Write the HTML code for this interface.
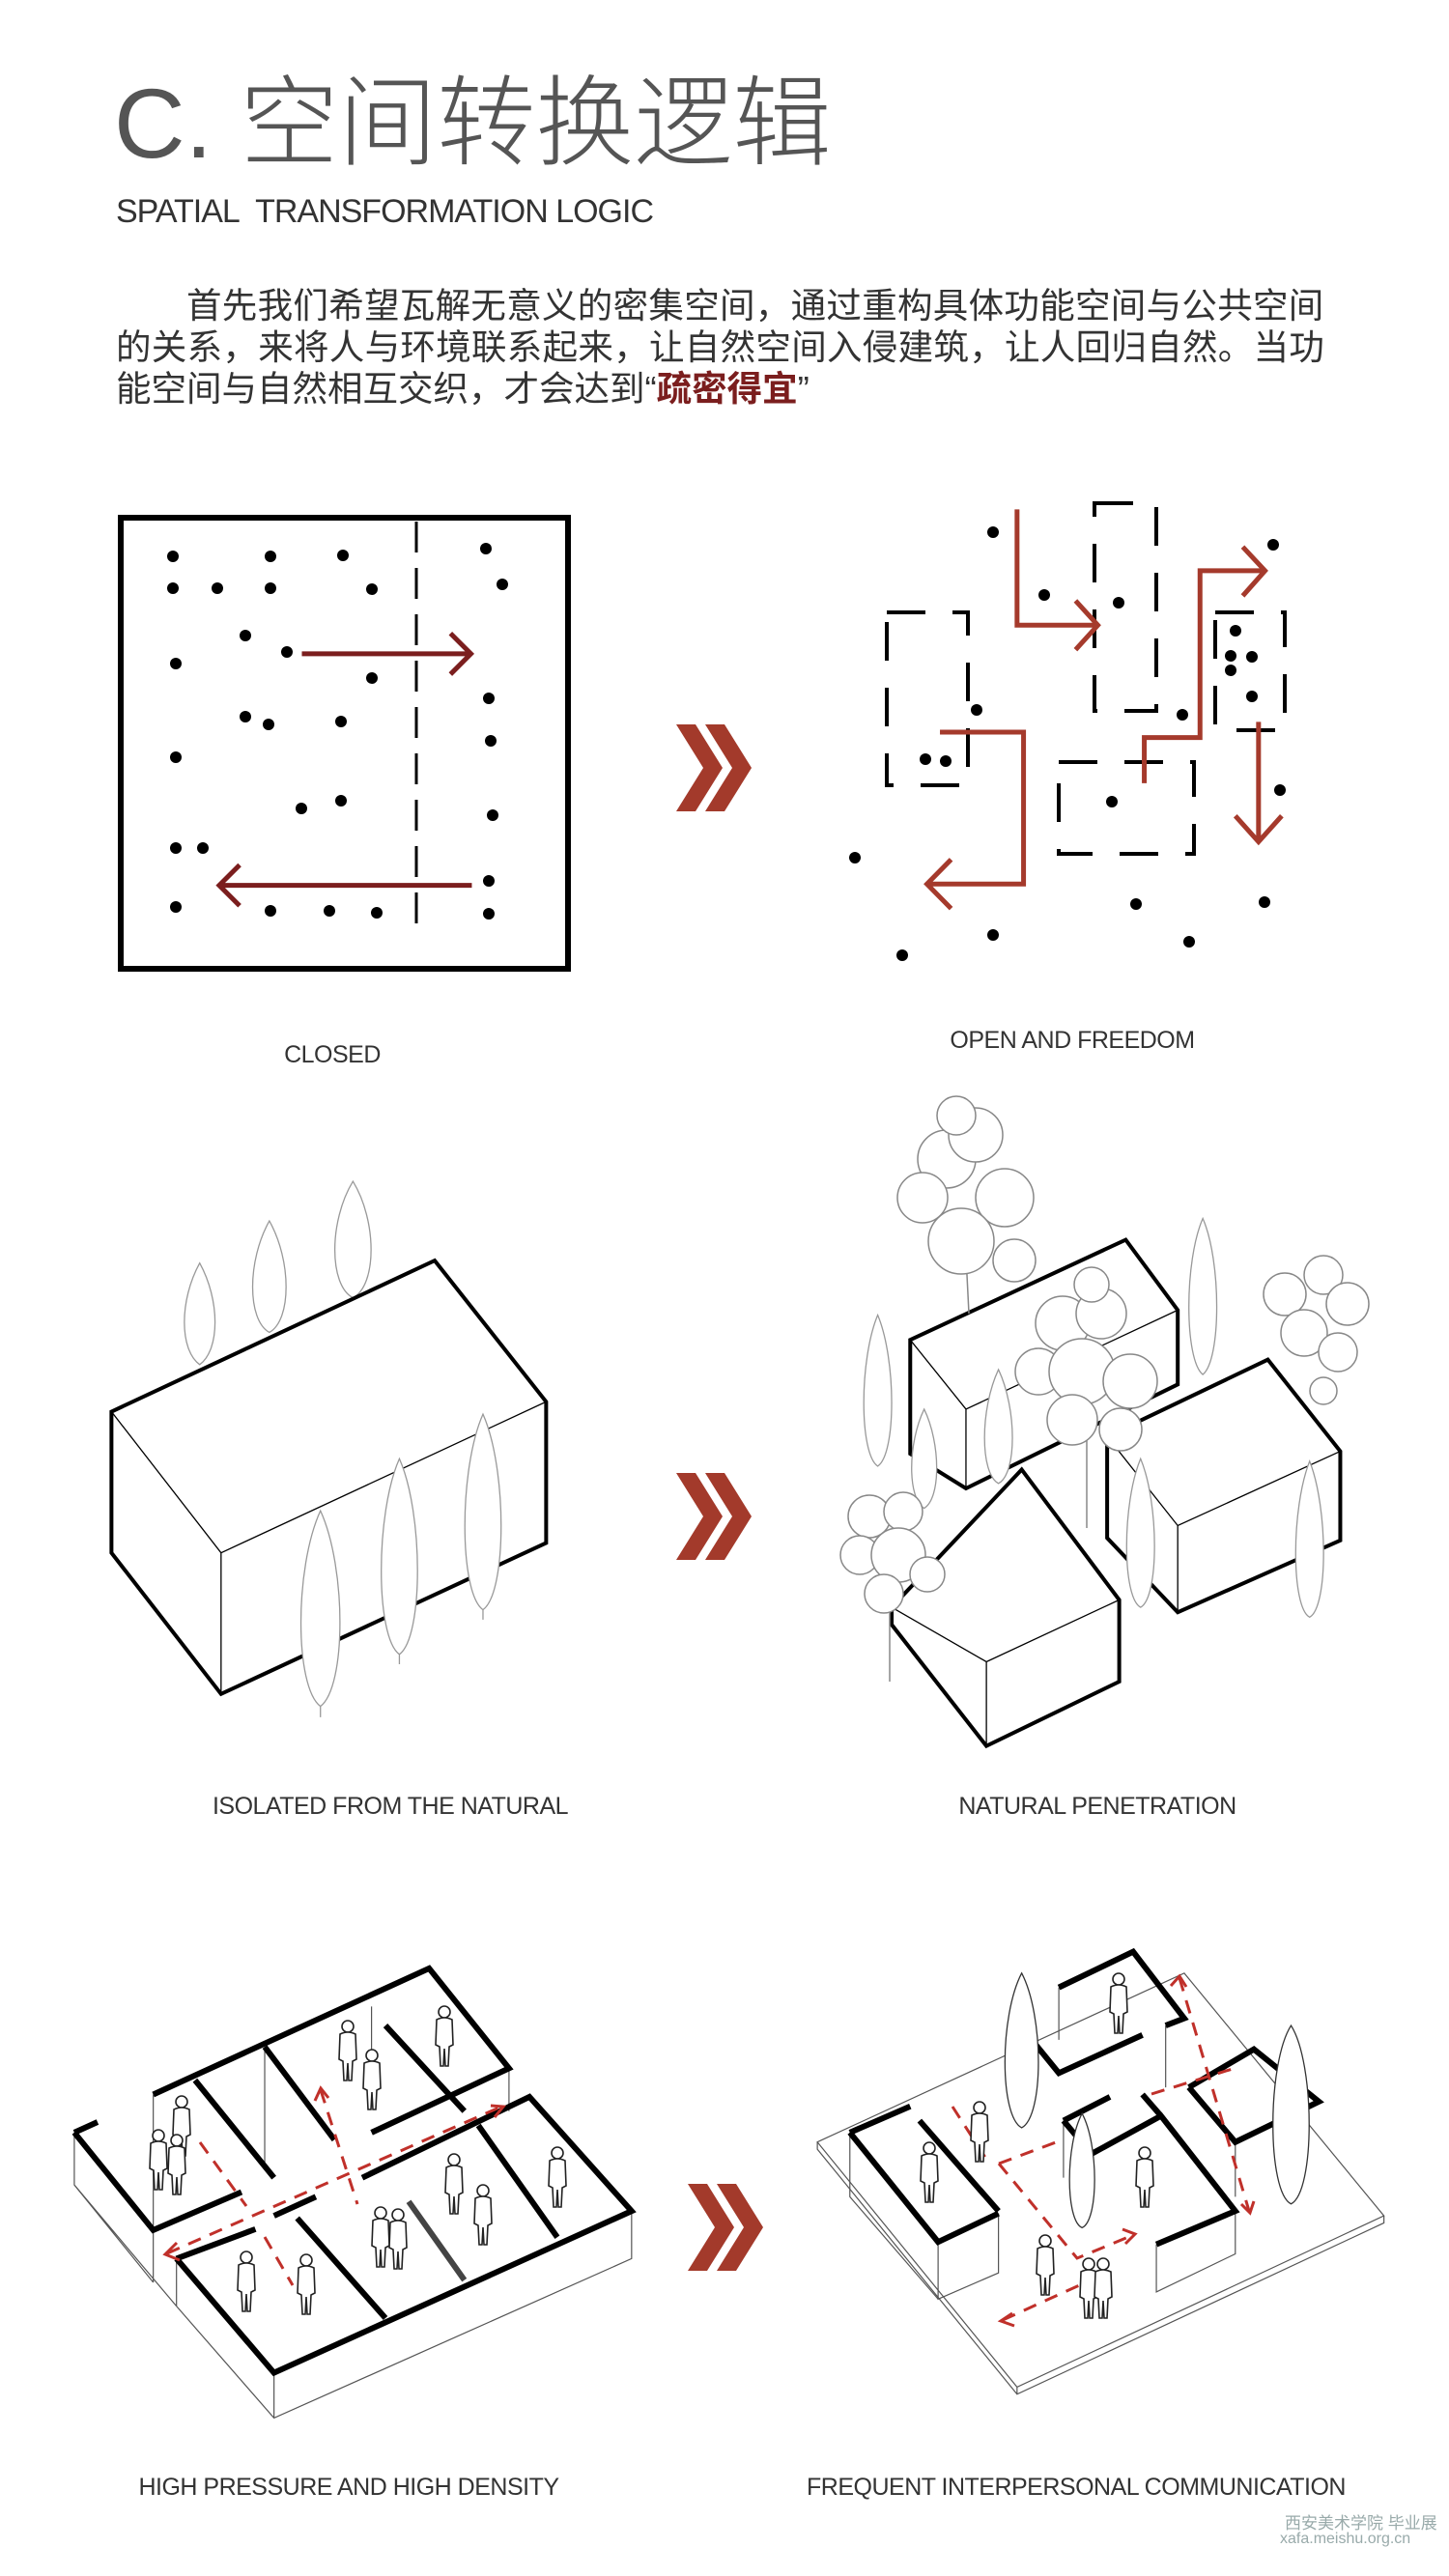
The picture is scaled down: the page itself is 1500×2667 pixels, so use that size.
<!DOCTYPE html>
<html><head><meta charset="utf-8"><style>
html,body{margin:0;padding:0;background:#fff}
body{width:1500px;height:2667px;position:relative;overflow:hidden;font-family:"Liberation Sans","Noto Sans CJK SC",sans-serif}
.t{position:absolute;white-space:nowrap}
.lab{position:absolute;font-size:25px;color:#333;transform:translateX(-50%);white-space:nowrap;letter-spacing:-0.5px}
svg{position:absolute;left:0;top:0}
.ns{vector-effect:non-scaling-stroke}
</style></head><body>
<div class="t" style="left:118px;top:72px;font-size:102px;color:#555;font-weight:300;line-height:1.1">C. 空间转换逻辑</div>
<div class="t" style="left:120px;top:200px;font-size:34px;color:#333;letter-spacing:-1px">SPATIAL&nbsp; TRANSFORMATION LOGIC</div>
<div class="t" style="left:120px;top:295px;width:1252px;white-space:normal;font-size:36.5px;line-height:43px;color:#333">
<div style="text-indent:73px;letter-spacing:0.3px">首先我们希望瓦解无意义的密集空间，通过重构具体功能空间与公共空间</div>
<div style="letter-spacing:0.3px">的关系，来将人与环境联系起来，让自然空间入侵建筑，让人回归自然。当功</div>
<div>能空间与自然相互交织，才会达到“<b style="color:#7b1e1e">疏密得宜</b>”</div>
</div>

<svg width="1500" height="2667" viewBox="0 0 1500 2667">
<defs>
<g id="p"><circle cx="0" cy="6" r="6" fill="#fff" stroke="#222" stroke-width="1.6"/><path d="M-8 14 Q0 10 8 14 L9 40 L5 42 L4 62 L1 62 L0 44 L-1 62 L-4 62 L-5 42 L-9 40 Z" fill="#fff" stroke="#222" stroke-width="1.6"/></g>
<polygon id="ch" points="-40,-45 -20,-45 8,0 -20,45 -40,45 -12,0" fill="#a33a2b"/>
</defs>

<rect x="125" y="536" width="463" height="467" fill="none" stroke="#000" stroke-width="6"/>
<line x1="431" y1="540" x2="431" y2="972" stroke="#000" stroke-width="3" stroke-dasharray="32 16"/>
<g fill="#000">
<circle cx="179" cy="576" r="6"/><circle cx="280" cy="576" r="6"/><circle cx="355" cy="575" r="6"/><circle cx="503" cy="568" r="6"/>
<circle cx="179" cy="609" r="6"/><circle cx="225" cy="609" r="6"/><circle cx="280" cy="609" r="6"/><circle cx="385" cy="610" r="6"/><circle cx="520" cy="605" r="6"/>
<circle cx="254" cy="658" r="6"/><circle cx="297" cy="675" r="6"/><circle cx="182" cy="687" r="6"/><circle cx="385" cy="702" r="6"/><circle cx="506" cy="723" r="6"/>
<circle cx="254" cy="742" r="6"/><circle cx="278" cy="750" r="6"/><circle cx="353" cy="747" r="6"/><circle cx="508" cy="767" r="6"/><circle cx="182" cy="784" r="6"/>
<circle cx="353" cy="829" r="6"/><circle cx="312" cy="837" r="6"/><circle cx="510" cy="844" r="6"/><circle cx="182" cy="878" r="6"/><circle cx="210" cy="878" r="6"/>
<circle cx="506" cy="912" r="6"/><circle cx="182" cy="939" r="6"/><circle cx="280" cy="943" r="6"/><circle cx="341" cy="943" r="6"/><circle cx="390" cy="945" r="6"/><circle cx="506" cy="946" r="6"/>
<circle cx="1028" cy="551" r="6"/><circle cx="1318" cy="564" r="6"/><circle cx="1081" cy="616" r="6"/><circle cx="1158" cy="624" r="6"/><circle cx="1279" cy="653" r="6"/>
<circle cx="1274" cy="679" r="6"/><circle cx="1296" cy="680" r="6"/><circle cx="1274" cy="694" r="6"/><circle cx="1296" cy="721" r="6"/><circle cx="1011" cy="735" r="6"/>
<circle cx="1224" cy="740" r="6"/><circle cx="958" cy="786" r="6"/><circle cx="979" cy="788" r="6"/><circle cx="1151" cy="830" r="6"/><circle cx="1325" cy="818" r="6"/>
<circle cx="885" cy="888" r="6"/><circle cx="1176" cy="936" r="6"/><circle cx="1309" cy="934" r="6"/><circle cx="1028" cy="968" r="6"/><circle cx="1231" cy="975" r="6"/><circle cx="934" cy="989" r="6"/>
</g>
<g fill="none" stroke="#000" stroke-width="4" stroke-dasharray="40 28">
<rect x="918" y="634" width="84" height="179"/><rect x="1133" y="521" width="64" height="215"/><rect x="1258" y="634" width="72" height="122"/><rect x="1096" y="789" width="140" height="95"/>
</g>
<g transform="matrix(0.9615 0 0 0.7051 0 0)" fill="none" stroke-linejoin="miter">
<g stroke="#7b1e1e" stroke-width="5">
<path class="ns" d="M325 960 H505 M485 930 L507 960 L485 990"/>
<path class="ns" d="M508 1300 H238 M258 1270 L236 1300 L258 1330"/>
</g>
<g stroke="#a53a2c" stroke-width="5">
<path class="ns" d="M1095 748 V918 H1180 M1158 882 L1182 918 L1158 954"/>
<path class="ns" d="M1232 1150 V1083 H1292 V838 H1360 M1338 803 L1362 838 L1338 875"/>
<path class="ns" d="M1012 1075 H1102 V1298 H1000 M1024 1262 L998 1298 L1024 1334"/>
<path class="ns" d="M1355 1060 V1232 M1330 1198 L1355 1236 L1380 1198"/>
</g>
</g>
<use href="#ch" x="740" y="795"/><use href="#ch" x="770" y="795"/>

<g transform="matrix(0.9615 0 0 0.5128 0 1100)" stroke-linejoin="miter">
<g fill="#fff" stroke="#999" stroke-width="1.3">
<path class="ns" d="M215 405 C237 480 237 580 215 610 C193 580 193 480 215 405Z"/>
<path class="ns" d="M290 320 C314 400 314 520 290 545 C266 520 266 400 290 320Z"/>
<path class="ns" d="M380 240 C406 320 406 450 380 475 C354 450 354 320 380 240Z"/>
</g>
<path class="ns" d="M120 705 L468 400 L588 685 L588 970 L238 1275 L120 990 Z" fill="#fff" stroke="#000" stroke-width="4"/>
<path class="ns" d="M120 705 L238 990 L588 685 M238 990 V1275" fill="none" stroke="#000" stroke-width="1.3"/>
<g fill="#fff" stroke="#999" stroke-width="1.3">
<path class="ns" d="M345 905 C373 1020 373 1260 345 1300 C317 1260 317 1020 345 905Z M345 1300 V1322"/>
<path class="ns" d="M430 800 C456 910 456 1160 430 1195 C404 1160 404 910 430 800Z M430 1195 V1215"/>
<path class="ns" d="M520 710 C546 820 546 1070 520 1105 C494 1070 494 820 520 710Z M520 1105 V1125"/>
</g>
<g fill="#fff" stroke="#999" stroke-width="1.3">
<path class="ns" d="M1295 315 C1315 400 1315 600 1295 630 C1275 600 1275 400 1295 315Z"/>
</g>
<path class="ns" d="M980 560 L1212 358 L1268 500 L1268 650 L1040 860 L980 790 Z" fill="#fff" stroke="#000" stroke-width="4"/>
<path class="ns" d="M980 560 L1040 700 L1268 500 M1040 700 V860" fill="none" stroke="#000" stroke-width="1.3"/>
<path class="ns" d="M1192 755 L1365 600 L1443 785 L1443 965 L1268 1110 L1192 960 Z" fill="#fff" stroke="#000" stroke-width="4"/>
<path class="ns" d="M1192 755 L1268 935 L1443 785 M1268 935 V1110" fill="none" stroke="#000" stroke-width="1.3"/>
<path class="ns" d="M960 1100 L1100 822 L1205 1085 L1205 1250 L1062 1380 L960 1135 Z" fill="#fff" stroke="#000" stroke-width="4"/>
<path class="ns" d="M960 1100 L1062 1210 L1205 1085 M1062 1210 V1380" fill="none" stroke="#000" stroke-width="1.3"/>
<g fill="#fff" stroke="#999" stroke-width="1.3">
<path class="ns" d="M945 510 C965 600 965 790 945 815 C925 790 925 600 945 510Z"/>
<path class="ns" d="M995 700 C1013 770 1013 880 995 900 C977 880 977 770 995 700Z"/>
<path class="ns" d="M1075 620 C1095 700 1095 830 1075 850 C1055 830 1055 700 1075 620Z"/>
<path class="ns" d="M1228 800 C1248 890 1248 1080 1228 1100 C1208 1080 1208 890 1228 800Z"/>
<path class="ns" d="M1410 805 C1430 900 1430 1100 1410 1120 C1390 1100 1390 900 1410 805Z"/>
</g>
</g>
<g fill="#fff" stroke="#888" stroke-width="1.5">
<line x1="1000" y1="1300" x2="1003" y2="1360"/><line x1="1125" y1="1480" x2="1125" y2="1582"/><line x1="921" y1="1650" x2="921" y2="1741"/>
<circle cx="980" cy="1200" r="30"/><circle cx="1010" cy="1175" r="28"/><circle cx="955" cy="1240" r="26"/><circle cx="1040" cy="1240" r="30"/><circle cx="995" cy="1285" r="34"/><circle cx="1050" cy="1305" r="22"/><circle cx="990" cy="1155" r="20"/>
<circle cx="1100" cy="1370" r="28"/><circle cx="1140" cy="1360" r="26"/><circle cx="1075" cy="1420" r="24"/><circle cx="1120" cy="1420" r="34"/><circle cx="1170" cy="1430" r="28"/><circle cx="1110" cy="1470" r="26"/><circle cx="1160" cy="1480" r="22"/><circle cx="1130" cy="1330" r="18"/>
<circle cx="900" cy="1570" r="22"/><circle cx="935" cy="1565" r="20"/><circle cx="890" cy="1610" r="20"/><circle cx="930" cy="1610" r="28"/><circle cx="960" cy="1630" r="18"/><circle cx="915" cy="1650" r="20"/>
<circle cx="1330" cy="1340" r="22"/><circle cx="1370" cy="1320" r="20"/><circle cx="1395" cy="1350" r="22"/><circle cx="1350" cy="1380" r="24"/><circle cx="1385" cy="1400" r="20"/><circle cx="1370" cy="1440" r="14"/>
</g>
<use href="#ch" x="740" y="1570"/><use href="#ch" x="770" y="1570"/>

<g transform="matrix(0.9615 0 0 0.4926 0 1900)" fill="none" stroke-linejoin="miter">
<g stroke="#555" stroke-width="1.2">
<path class="ns" d="M80 625 V735 L190 990 L295 1225 L680 890 V790 M190 890 V990 M165 830 V940 M80 735 L165 940 M295 1130 V1225"/>
<path class="ns" d="M165 545 V830 M285 445 V700 M400 360 V560 M548 490 V580"/>
</g>
<g stroke="#000" stroke-width="6">
<path class="ns" d="M80 625 L105 603 M80 625 L165 830 L260 750"/>
<path class="ns" d="M165 545 L462 280 L548 490 L400 625"/>
<path class="ns" d="M210 515 L295 720 M285 445 L360 640 M415 400 L500 580"/>
<path class="ns" d="M190 890 L275 828 M190 890 L295 1130 L680 790 L570 550 L390 720"/>
<path class="ns" d="M320 805 L415 1015 M515 610 L600 845 M295 800 L340 760"/>
</g>
<path class="ns" d="M440 770 L500 935" stroke="#444" stroke-width="6"/>
<g stroke="#555" stroke-width="1.2">
<path class="ns" d="M880 645 L1275 290 L1490 800 L1095 1160 Z M880 645 V660 L1095 1175 L1490 815 V800 M1095 1160 V1175"/>
<path class="ns" d="M915 625 V760 L1010 975 M1010 855 V975 L1075 920 V795 M1140 320 V430 M1255 400 V530 M1145 600 V720 M1245 860 V960 L1330 880 V790 M1330 645 V760"/>
</g>
<g stroke="#000" stroke-width="6">
<path class="ns" d="M915 625 L980 570 M915 625 L1010 855 L1075 795 M990 600 L1075 790"/>
<path class="ns" d="M1140 320 L1220 245 L1275 385 L1255 400 M1115 440 L1140 500 L1230 420"/>
<path class="ns" d="M1145 600 L1195 550 M1145 600 L1175 670 L1250 590 L1330 790 L1245 860 M1230 545 L1250 590"/>
<path class="ns" d="M1280 530 L1350 450 L1420 560 L1330 645 L1280 530"/>
</g>
<g fill="#fff" stroke="#333" stroke-width="1.3">
<path class="ns" d="M1100 290 C1124 380 1124 590 1100 615 C1076 590 1076 380 1100 290Z"/>
<path class="ns" d="M1165 585 C1183 650 1183 810 1165 825 C1147 810 1147 650 1165 585Z"/>
<path class="ns" d="M1390 400 C1416 480 1416 750 1390 775 C1364 750 1364 480 1390 400Z"/>
</g>
</g>
<g stroke="#c0302a" stroke-width="3" fill="none" stroke-dasharray="14 10">
<path d="M173 2333 L519 2181"/><path d="M332 2164 L370 2282"/><path d="M207 2218 L255 2284"/><path d="M274 2316 L303 2366"/>
<path d="M1221 2048 L1293 2289"/><path d="M986 2181 L1024 2240"/><path d="M1034 2240 L1101 2215"/><path d="M1034 2240 L1115 2338 L1173 2314"/><path d="M1038 2402 L1135 2358"/><path d="M1192 2168 L1279 2141"/>
</g>
<g stroke="#c0302a" stroke-width="3" fill="none">
<path d="M183 2322 L171 2334 L186 2340"/><path d="M508 2180 L521 2181 L512 2192"/><path d="M326 2175 L332 2162 L340 2172"/>
<path d="M1212 2056 L1221 2046 L1228 2057"/><path d="M1285 2282 L1294 2291 L1298 2279"/><path d="M1048 2395 L1036 2403 L1050 2408"/><path d="M1162 2308 L1175 2313 L1165 2323"/>
</g>
<g>
<use href="#p" x="188" y="2170"/><use href="#p" x="164" y="2205"/><use href="#p" x="183" y="2210"/><use href="#p" x="360" y="2092"/><use href="#p" x="385" y="2122"/><use href="#p" x="460" y="2077"/>
<use href="#p" x="255" y="2331"/><use href="#p" x="317" y="2334"/><use href="#p" x="394" y="2285"/><use href="#p" x="412" y="2287"/><use href="#p" x="470" y="2230"/><use href="#p" x="500" y="2262"/><use href="#p" x="577" y="2223"/>
<use href="#p" x="1158" y="2043"/><use href="#p" x="1014" y="2176"/><use href="#p" x="962" y="2218"/><use href="#p" x="1185" y="2223"/><use href="#p" x="1082" y="2314"/><use href="#p" x="1127" y="2338"/><use href="#p" x="1142" y="2338"/>
</g>
<use href="#ch" x="752" y="2306"/><use href="#ch" x="782" y="2306"/>
</svg>

<div class="lab" style="left:344px;top:1078px">CLOSED</div>
<div class="lab" style="left:1110px;top:1063px">OPEN AND FREEDOM</div>
<div class="lab" style="left:404px;top:1856px">ISOLATED FROM THE NATURAL</div>
<div class="lab" style="left:1136px;top:1856px">NATURAL PENETRATION</div>
<div class="lab" style="left:361px;top:2561px">HIGH PRESSURE AND HIGH DENSITY</div>
<div class="lab" style="left:1114px;top:2561px">FREQUENT INTERPERSONAL COMMUNICATION</div>
<div class="t" style="left:1330px;top:2598px;font-size:17px;color:#9aa">西安美术学院 毕业展</div>
<div class="t" style="left:1325px;top:2620px;font-size:16px;color:#9aa">xafa.meishu.org.cn</div>
</body></html>
